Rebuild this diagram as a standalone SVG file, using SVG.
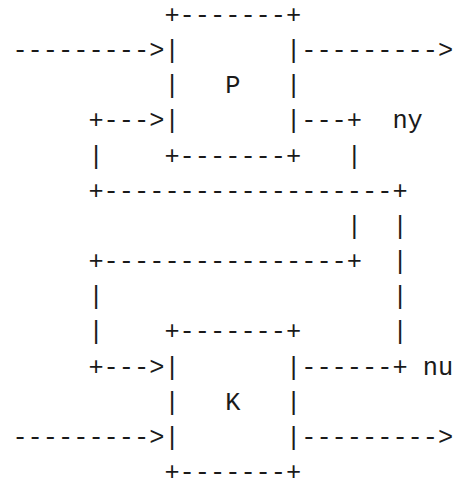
<svg xmlns="http://www.w3.org/2000/svg" width="456" height="480" viewBox="0 0 456 480">
<style>
text{font-family:"Liberation Mono","DejaVu Sans Mono",monospace;font-size:25.33px;fill:#1a1a1a;}
</style>
<rect width="456" height="480" fill="#ffffff"/>
<g id="connectors">
<text x="12.4" y="58.15">---------&gt;</text>
<text x="301.2" y="58.15">---------&gt;</text>
<text x="88.4" y="128.45">+---&gt;</text>
<text x="301.2" y="128.45">---+</text>
<text x="392.4" y="128.45">ny</text>
<text x="88.4" y="163.6">|</text>
<text x="346.8" y="163.6">|</text>
<text x="88.4" y="198.75">+-------------------+</text>
<text x="346.8" y="233.9">|</text>
<text x="392.4" y="233.9">|</text>
<text x="88.4" y="269.05">+----------------+</text>
<text x="392.4" y="269.05">|</text>
<text x="88.4" y="304.2">|</text>
<text x="392.4" y="304.2">|</text>
<text x="88.4" y="339.35">|</text>
<text x="392.4" y="339.35">|</text>
<text x="88.4" y="374.5">+---&gt;</text>
<text x="301.2" y="374.5">------+</text>
<text x="422.8" y="374.5">nu</text>
<text x="12.4" y="444.8">---------&gt;</text>
<text x="301.2" y="444.8">---------&gt;</text>
</g>
<g id="node-P">
<text x="164.4" y="23">+-------+</text>
<text x="164.4" y="58.15">|</text>
<text x="286" y="58.15">|</text>
<text x="164.4" y="93.3">|</text>
<text x="225.2" y="93.3">P</text>
<text x="286" y="93.3">|</text>
<text x="164.4" y="128.45">|</text>
<text x="286" y="128.45">|</text>
<text x="164.4" y="163.6">+-------+</text>
</g>
<g id="node-K">
<text x="164.4" y="339.35">+-------+</text>
<text x="164.4" y="374.5">|</text>
<text x="286" y="374.5">|</text>
<text x="164.4" y="409.65">|</text>
<text x="225.2" y="409.65">K</text>
<text x="286" y="409.65">|</text>
<text x="164.4" y="444.8">|</text>
<text x="286" y="444.8">|</text>
<text x="164.4" y="479.95">+-------+</text>
</g>
</svg>
